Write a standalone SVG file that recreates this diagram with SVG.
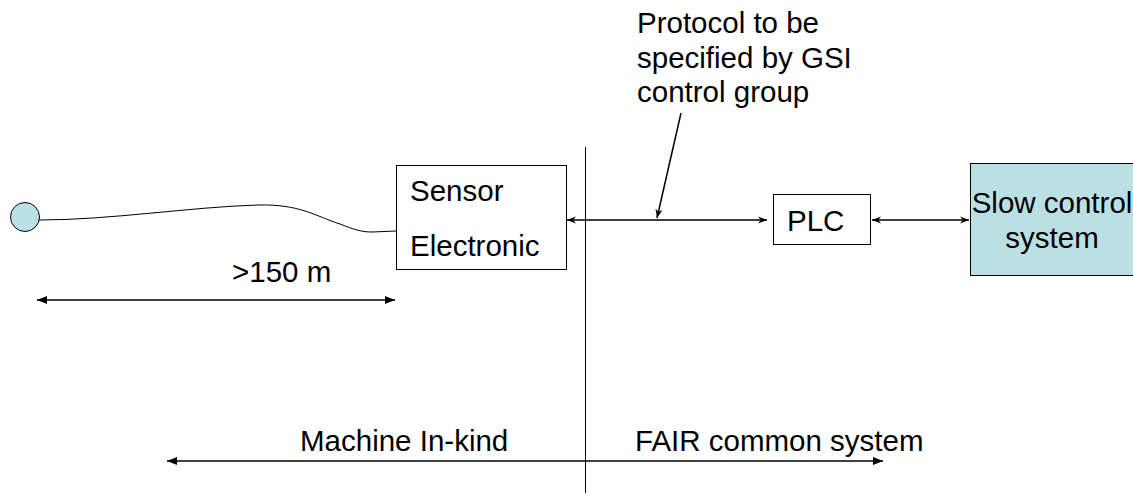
<svg xmlns="http://www.w3.org/2000/svg" width="1133" height="497" viewBox="0 0 1133 497">
  <style>
    text { font-family: "Liberation Sans", Arial, sans-serif; font-size: 29.5px; fill: #000; }
    .box { stroke: #000; stroke-width: 1; fill: #fff; }
    .blue { fill: #bbe0e3; }
    .line { stroke: #000; stroke-width: 1.5; fill: none; }
    .thin { stroke: #000; stroke-width: 1; fill: none; }
  </style>
  <defs>
    <marker id="stealth" viewBox="0 0 10 8" refX="10" refY="4" markerWidth="9" markerHeight="8" markerUnits="userSpaceOnUse" orient="auto-start-reverse">
      <path d="M0,0 L10,4 L0,8 L3,4 z" fill="#000"/>
    </marker>
    <marker id="tri" viewBox="0 0 10 8" refX="10" refY="4" markerWidth="10" markerHeight="8" markerUnits="userSpaceOnUse" orient="auto-start-reverse">
      <path d="M0,0 L10,4 L0,8 z" fill="#000"/>
    </marker>
  </defs>

  <!-- sensor head at the far end of the cable -->
  <g id="sensor-head">
    <circle cx="25" cy="217" r="14.5" class="box blue"/>
  </g>

  <g id="sensor-electronic">
    <rect x="396.5" y="165.5" width="170" height="104" class="box"/>
    <text x="410" y="201">Sensor</text>
    <text x="410" y="256">Electronic</text>
  </g>

  <g id="plc">
    <rect x="773.5" y="194.5" width="97" height="50" class="box"/>
    <text x="787" y="231">PLC</text>
  </g>

  <g id="slow-control">
    <rect x="970.5" y="163.5" width="164" height="112" class="box blue"/>
    <text x="1052" y="213" text-anchor="middle">Slow control</text>
    <text x="1052" y="248" text-anchor="middle">system</text>
  </g>

  <g id="labels">
    <text x="637" y="33">Protocol to be</text>
    <text x="637" y="68">specified by GSI</text>
    <text x="637" y="102">control group</text>
    <text x="232" y="282">&gt;150 m</text>
    <text x="300" y="451">Machine In-kind</text>
    <text x="635" y="451">FAIR common system</text>
  </g>

  <g id="connectors">
    <!-- cable from sensor head to electronics -->
    <path class="thin" d="M39,220 C110,220 190,207 258,205 C300,204 315,216 340,224 C355,230 362,232 372,232 L396,231"/>
    <!-- boundary between scopes -->
    <line class="thin" x1="585.5" y1="147" x2="585.5" y2="493"/>
    <line class="line" x1="567" y1="220" x2="767" y2="220" marker-start="url(#stealth)" marker-end="url(#stealth)"/>
    <line class="line" x1="872" y1="220" x2="969" y2="220" marker-start="url(#stealth)" marker-end="url(#stealth)"/>
    <line class="line" x1="681" y1="113" x2="657" y2="218" marker-end="url(#stealth)"/>
    <line class="line" x1="37" y1="300" x2="395" y2="300" marker-start="url(#tri)" marker-end="url(#tri)"/>
    <line class="line" x1="167" y1="461" x2="883" y2="461" marker-start="url(#tri)" marker-end="url(#tri)"/>
  </g>
</svg>
